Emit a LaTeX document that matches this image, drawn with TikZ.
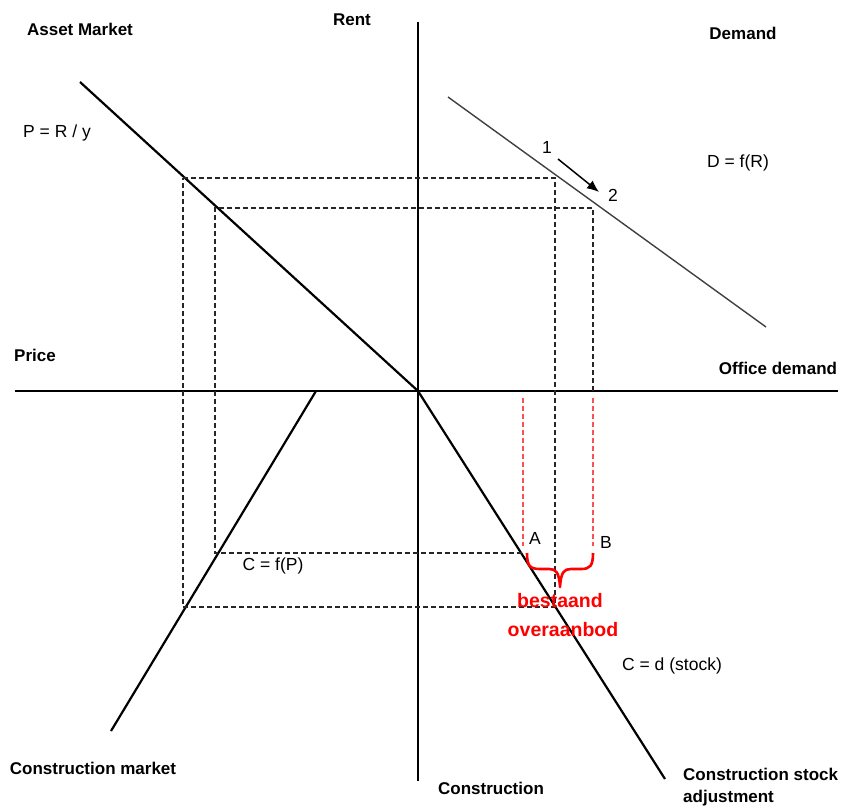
\documentclass[tikz,border=0pt]{standalone}
\usepackage{fontspec}
\setmainfont{Liberation Sans}
\usetikzlibrary{arrows.meta}
\begin{document}
\begin{tikzpicture}[x=1pt,y=-1pt,
  axis/.style={line width=2.6pt,black},
  curve/.style={line width=2.2pt,black},
  dem/.style={line width=1.4pt,black!75},
  dsh/.style={line width=1.2pt,dash pattern=on 5pt off 3pt,black!85},
  rdsh/.style={line width=1.6pt,dash pattern=on 5pt off 3pt,draw={rgb,255:red,255;green,80;blue,80}},
  bold/.style={font=\fontsize{17}{20}\selectfont\bfseries,inner sep=0pt},
  lab/.style={font=\fontsize{17.5}{20}\selectfont,inner sep=0pt},
  rlab/.style={font=\fontsize{19.5}{22}\selectfont\bfseries,text=red,inner sep=0pt}]
\useasboundingbox (0,0) rectangle (843,809);
% axes
\coordinate (vt) at (418,22);
\coordinate (vb) at (418,781);
\coordinate (hl) at (15,391);
\coordinate (hr) at (838,391);
\coordinate (O) at (418,391);
\draw[axis] (vt) -- (vb);
\draw[axis] (hl) -- (hr);
% curves
\coordinate (am1) at (80,82);
\draw[curve] (am1) -- (O);
\coordinate (cs2) at (665,779);
\draw[curve] (O) -- (cs2);
\coordinate (cm1) at (316,391);
\coordinate (cm2) at (111,731);
\draw[curve] (cm1) -- (cm2);
\coordinate (d1) at (448,97);
\coordinate (d2) at (766,327);
\draw[dem] (d1) -- (d2);
% dashed rectangles
\coordinate (o1) at (183,178);
\coordinate (o2) at (555,178);
\coordinate (o3) at (555,607);
\coordinate (o4) at (183,607);
\draw[dsh] (o1) -- (o2) -- (o3) -- (o4) -- cycle;
\coordinate (i1) at (215,208);
\coordinate (i2) at (593,208);
\coordinate (i2b) at (593,391);
\coordinate (i3) at (522,553);
\coordinate (i4) at (215,553);
\draw[dsh] (i2b) -- (i2) -- (i1) -- (i4) -- (i3);
% red dashed
\coordinate (ra1) at (523,398);
\coordinate (ra2) at (523,546);
\coordinate (rb1) at (593,398);
\coordinate (rb2) at (593,546);
\draw[rdsh] (ra1) -- (ra2);
\draw[rdsh] (rb1) -- (rb2);
% brace
\coordinate (bl) at (527,553);
\coordinate (br) at (593,553);
\coordinate (btip) at (560,587);
\draw[red,line width=2.6pt,line join=round]
  (bl) .. controls (527,566) and (530,569) .. (540,569) -- (549,569)
  .. controls (556,569) and (559,572) .. (btip)
  .. controls (561,572) and (564,569) .. (571,569) -- (581,569)
  .. controls (590,569) and (593,566) .. (br);
% arrow
\coordinate (a1) at (558,159);
\coordinate (a2) at (599,192);
\draw[line width=1.5pt,-{Latex[length=12pt,width=10pt]}] (a1) -- (a2);
% labels
\node[bold] (assetm) at (80,29) {Asset Market};
\node[bold] (rent) at (352,20) {Rent};
\node[bold] (demand) at (743,33) {Demand};
\node[lab] (prs) at (57,133) {P = R / y};
\node[lab] (one) at (547,147) {1};
\node[lab] (two) at (613,195) {2};
\node[lab] (dfr) at (738,163) {D = f(R)};
\node[bold] (price) at (35,355) {Price};
\node[bold] (office) at (778,368) {Office demand};
\node[lab] (A) at (535,538) {A};
\node[lab] (B) at (606,542) {B};
\node[lab] (cfp) at (273,566) {C = f(P)};
\node[rlab] (best) at (560,601) {bestaand};
\node[rlab] (over) at (563,630) {overaanbod};
\node[lab] (cds) at (672,666) {C = d (stock)};
\node[bold] (cmk) at (93,768) {Construction market};
\node[bold] (cons) at (491,788) {Construction};
\node[bold,align=left,anchor=north west,font=\fontsize{17}{22}\selectfont\bfseries] (csa) at (683,768) {Construction stock\\adjustment};
\end{tikzpicture}
\end{document}
